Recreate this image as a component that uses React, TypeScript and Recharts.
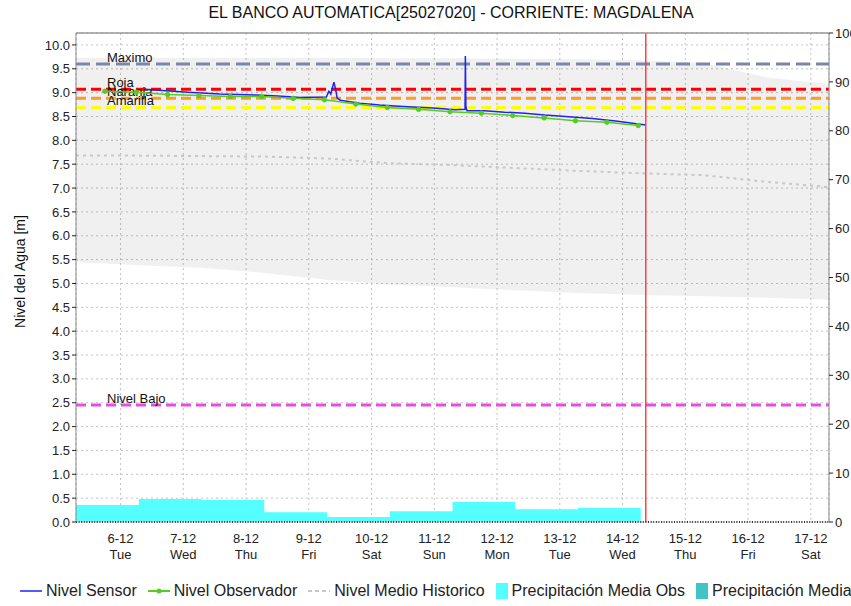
import React from "react";
import { ComposedChart, Line, Area, XAxis, YAxis, CartesianGrid, ReferenceLine } from "recharts";

// eje x: dias desde 5-12 00:00 (la ventana va de 5-12 07:00 a 17-12 07:00)
const dayTicks = [1, 2, 3, 4, 5, 6, 7, 8, 9, 10, 11, 12];
const dateLabels = ["6-12", "7-12", "8-12", "9-12", "10-12", "11-12", "12-12", "13-12", "14-12", "15-12", "16-12", "17-12"];
const weekdayLabels = ["Tue", "Wed", "Thu", "Fri", "Sat", "Sun", "Mon", "Tue", "Wed", "Thu", "Fri", "Sat"];

const levelTicks = [0, 0.5, 1, 1.5, 2, 2.5, 3, 3.5, 4, 4.5, 5, 5.5, 6, 6.5, 7, 7.5, 8, 8.5, 9, 9.5, 10];
const precipTicks = [0, 10, 20, 30, 40, 50, 60, 70, 80, 90, 100];

const sensorDays = [1.39, 2.07, 2.58, 3.17, 3.51, 3.86, 4.28, 4.32, 4.35, 4.38, 4.4, 4.42, 4.44, 4.45, 4.5, 4.81, 5.13, 5.5, 5.98, 6.33, 6.49, 6.495, 6.503, 6.52, 6.8, 7.12, 7.44, 7.76, 8.09, 8.52, 8.92, 9.16, 9.37];
const sensorLevels = [9.07, 9.01, 8.97, 8.95, 8.93, 8.9, 8.91, 9.03, 8.97, 9.12, 9.22, 9.11, 8.98, 8.89, 8.84, 8.78, 8.74, 8.71, 8.68, 8.64, 8.65, 9.77, 8.71, 8.62, 8.62, 8.59, 8.57, 8.53, 8.5, 8.46, 8.4, 8.36, 8.32];

const obsDays = [0.75, 1.25, 1.75, 2.25, 2.75, 3.25, 3.75, 4.25, 4.75, 5.25, 5.75, 6.25, 6.75, 7.25, 7.75, 8.25, 8.75, 9.25];
const obsLevels = [9.03, 9.01, 8.96, 8.94, 8.92, 8.92, 8.88, 8.85, 8.76, 8.69, 8.65, 8.6, 8.57, 8.52, 8.47, 8.41, 8.38, 8.31];

const histDays = [0.29, 1.29, 2.29, 3.29, 4.29, 5.29, 6.29, 7.29, 8.29, 9.29, 10.29, 11.29, 12.29];
const histHigh = [9.73, 9.73, 9.73, 9.73, 9.73, 9.72, 9.72, 9.71, 9.7, 9.68, 9.62, 9.32, 9.18];
const histLow = [5.45, 5.38, 5.33, 5.22, 5.08, 4.98, 4.92, 4.86, 4.8, 4.76, 4.73, 4.7, 4.66];
const histMean = [7.68, 7.68, 7.67, 7.66, 7.62, 7.52, 7.48, 7.42, 7.36, 7.31, 7.27, 7.13, 7.02];

const precipDays = [0.29, 1.29, 2.29, 3.29, 4.29, 5.29, 6.29, 7.29, 8.29];
const precipValues = [3.5, 4.7, 4.5, 2.0, 1.0, 2.2, 4.1, 2.6, 2.9];
const precipEnd = 9.29;

const thresholdNames = ["Maximo", "Roja", "Naranja", "Amarilla", "Nivel Bajo"];
const thresholdValues = [9.6, 9.07, 8.88, 8.69, 2.45];

const nowDay = 9.37;
const xDomain = [0.29, 12.29];

const thresholdStyle: Record<string, { color: string; dash: string }> = {
  Maximo: { color: "#7a86a8", dash: "14 6" },
  Roja: { color: "#ff0000", dash: "10 5" },
  Naranja: { color: "#ff9a22", dash: "10 5" },
  Amarilla: { color: "#ffff00", dash: "10 5" },
  "Nivel Bajo": { color: "#e84ce8", dash: "10 5" },
};

const sensorData = sensorDays.map((x, i) => ({ x, v: sensorLevels[i] }));
const obsData = obsDays.map((x, i) => ({ x, v: obsLevels[i] }));
const histData = histDays.map((x, i) => ({ x, range: [histLow[i], histHigh[i]], mean: histMean[i] }));
const precipData = [
  ...precipDays.map((x, i) => ({ x, p: precipValues[i] })),
  { x: precipEnd, p: precipValues[precipValues.length - 1] },
];

const FONT = '"Liberation Sans", Arial, sans-serif';

function DayTick(props: any) {
  const { x, y, payload } = props;
  const i = dayTicks.indexOf(payload.value);
  return (
    <g>
      <text x={x} y={y + 19} textAnchor="middle" fontSize={13} fill="#222" fontFamily={FONT}>
        {dateLabels[i]}
      </text>
      <text x={x} y={y + 35} textAnchor="middle" fontSize={13} fill="#222" fontFamily={FONT}>
        {weekdayLabels[i]}
      </text>
    </g>
  );
}

function ThresholdLabel(props: any) {
  const { viewBox, text } = props;
  if (!viewBox) return null;
  return (
    <text x={viewBox.x + 31} y={viewBox.y - 2} fontSize={13} fill="#111" fontFamily={FONT}>
      {text}
    </text>
  );
}

function AxisTitle(props: any) {
  const { viewBox } = props;
  const cy = viewBox ? viewBox.y + viewBox.height / 2 - 6 : 272;
  return (
    <text x={25} y={cy} transform={`rotate(-90, 25, ${cy})`} textAnchor="middle" fontSize={14} fill="#111" fontFamily={FONT}>
      Nivel del Agua [m]
    </text>
  );
}

const legendItems = [
  { label: "Nivel Sensor", kind: "line", color: "#2222ee" },
  { label: "Nivel Observador", kind: "dotline", color: "#55cc22" },
  { label: "Nivel Medio Historico", kind: "dash", color: "#c8c8c8" },
  { label: "Precipitación Media Obs", kind: "box", color: "#55ffff" },
  { label: "Precipitación Media", kind: "box", color: "#40c4c4" },
];

function LegendMarker({ kind, color }: { kind: string; color: string }) {
  if (kind === "box") {
    return (
      <svg width={14} height={18}>
        <rect x={1} y={1} width={12} height={16} fill={color} />
      </svg>
    );
  }
  return (
    <svg width={24} height={10}>
      <line x1={1} y1={5} x2={23} y2={5} stroke={color} strokeWidth={kind === "line" ? 1.5 : 2} strokeDasharray={kind === "dash" ? "4 3" : undefined} />
      {kind === "dotline" && <circle cx={12} cy={5} r={2.5} fill={color} />}
    </svg>
  );
}

export default function App() {
  return (
    <div style={{ position: "absolute", left: 0, top: 0, width: 851, height: 606, background: "#fff", fontFamily: FONT }}>
      <div style={{ position: "absolute", left: 150, top: 4, width: 602, textAlign: "center", fontSize: 16, color: "#111" }}>
        EL BANCO AUTOMATICA[25027020] - CORRIENTE: MAGDALENA
      </div>
      <ComposedChart width={851} height={606} margin={{ top: 33, right: 0, bottom: 38, left: 0 }}>
        <CartesianGrid yAxisId="left" stroke="#c4c4c4" strokeDasharray="2 3" />
        <XAxis
          type="number"
          dataKey="x"
          domain={xDomain}
          ticks={dayTicks}
          allowDataOverflow
          height={46}
          tickSize={0}
          tick={<DayTick />}
          axisLine={{ stroke: "#333", strokeWidth: 2, strokeDasharray: "1 1.6" }}
        />
        <YAxis
          yAxisId="left"
          type="number"
          domain={[0, 10.25]}
          ticks={levelTicks}
          allowDataOverflow
          width={76}
          tickSize={4}
          tickFormatter={(v: number) => v.toFixed(1)}
          tick={{ fontSize: 13, fill: "#222", fontFamily: FONT }}
          axisLine={{ stroke: "#888" }}
          tickLine={{ stroke: "#222" }}
          label={<AxisTitle />}
        />
        <YAxis
          yAxisId="right"
          orientation="right"
          type="number"
          domain={[0, 100]}
          ticks={precipTicks}
          allowDataOverflow
          width={22}
          tickSize={4}
          tick={{ fontSize: 13, fill: "#222", fontFamily: FONT }}
          axisLine={{ stroke: "#888" }}
          tickLine={{ stroke: "#222" }}
        />
        <Area
          yAxisId="left"
          data={histData}
          dataKey="range"
          type="linear"
          stroke="none"
          fill="#000"
          fillOpacity={0.06}
          isAnimationActive={false}
        />
        <Line
          yAxisId="left"
          data={histData}
          dataKey="mean"
          type="linear"
          stroke="#c8c8c8"
          strokeWidth={2}
          strokeDasharray="3 4"
          dot={false}
          isAnimationActive={false}
        />
        <Area
          yAxisId="right"
          data={precipData}
          dataKey="p"
          type="stepAfter"
          stroke="none"
          fill="#55ffff"
          fillOpacity={1}
          isAnimationActive={false}
        />
        {thresholdNames.map((name, i) => (
          <ReferenceLine
            key={name}
            yAxisId="left"
            y={thresholdValues[i]}
            stroke={thresholdStyle[name].color}
            strokeWidth={3}
            strokeDasharray={thresholdStyle[name].dash}
            label={<ThresholdLabel text={name} />}
          />
        ))}
        <Line
          yAxisId="left"
          data={sensorData}
          dataKey="v"
          type="linear"
          stroke="#2222ee"
          strokeWidth={1.5}
          dot={false}
          isAnimationActive={false}
        />
        <Line
          yAxisId="left"
          data={obsData}
          dataKey="v"
          type="linear"
          stroke="#55cc22"
          strokeWidth={1.5}
          dot={{ r: 2.2, fill: "#55cc22", stroke: "#55cc22", strokeWidth: 1 }}
          isAnimationActive={false}
        />
        <ReferenceLine yAxisId="left" x={nowDay} stroke="#ff4040" strokeWidth={1.5} />
        <ReferenceLine yAxisId="left" y={10.25} stroke="#999" strokeWidth={1.5} />
      </ComposedChart>
      <div style={{ position: "absolute", left: 19, top: 582, display: "flex", alignItems: "center", fontSize: 16, color: "#222", whiteSpace: "nowrap" }}>
        {legendItems.map((it) => (
          <div key={it.label} style={{ display: "flex", alignItems: "center", marginRight: 10 }}>
            <LegendMarker kind={it.kind} color={it.color} />
            <span style={{ marginLeft: 3 }}>{it.label}</span>
          </div>
        ))}
      </div>
    </div>
  );
}
